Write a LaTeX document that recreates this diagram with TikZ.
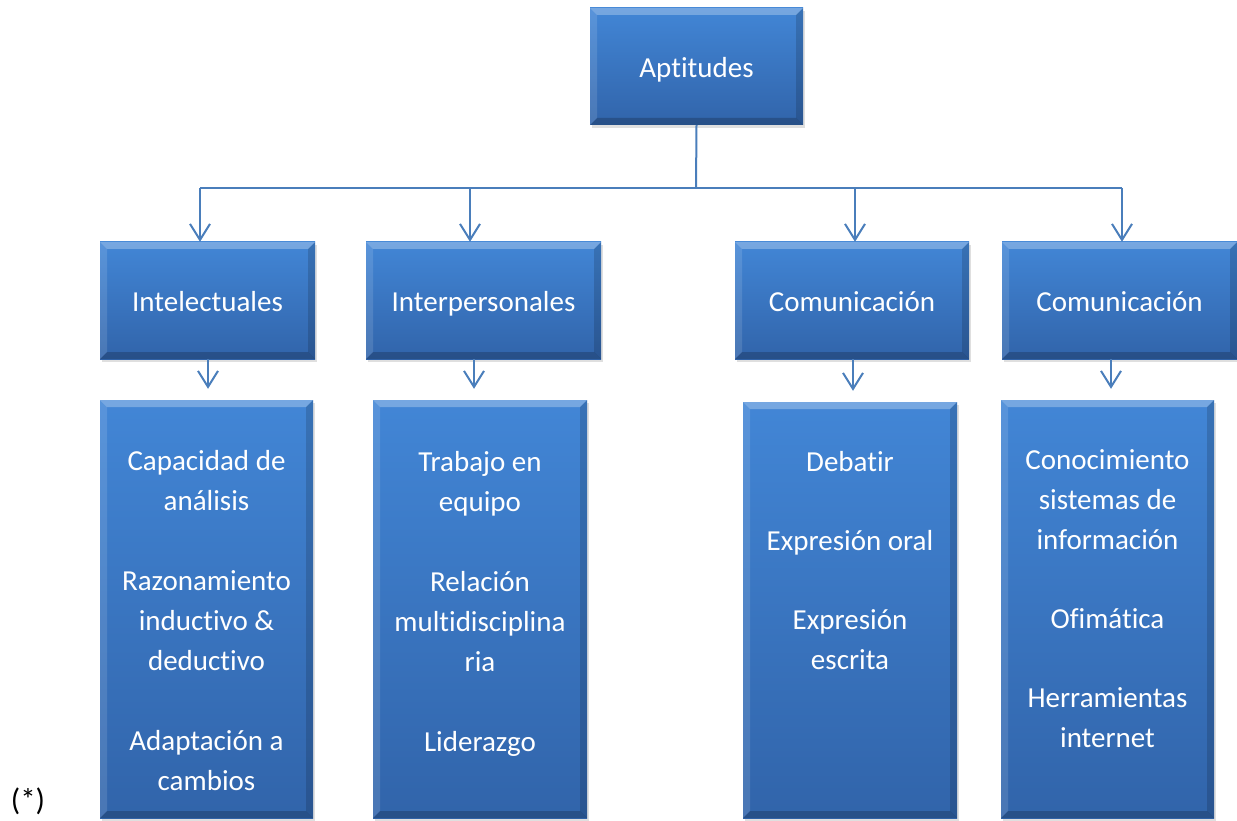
\documentclass[tikz,border=0pt]{standalone}
\usepackage{fontspec}
\setmainfont{Carlito}[Ligatures=NoCommon]
\usetikzlibrary{arrows.meta,shadows,calc}
\definecolor{btop}{RGB}{66,134,214}
\definecolor{bbot}{RGB}{49,100,170}
\definecolor{lnc}{RGB}{74,126,187}
\tikzset{
  bevelpic/.style={path picture={
    \fill[white,opacity=.28] (path picture bounding box.north west) -- (path picture bounding box.north east)
      -- ([xshift=-7pt,yshift=-7pt]path picture bounding box.north east) -- ([xshift=7pt,yshift=-7pt]path picture bounding box.north west) -- cycle;
    \fill[white,opacity=.12] (path picture bounding box.north west) -- ([xshift=7pt,yshift=-7pt]path picture bounding box.north west)
      -- ([xshift=7pt,yshift=7pt]path picture bounding box.south west) -- (path picture bounding box.south west) -- cycle;
    \fill[black,opacity=.2] (path picture bounding box.south west) -- (path picture bounding box.south east)
      -- ([xshift=-7pt,yshift=7pt]path picture bounding box.south east) -- ([xshift=7pt,yshift=7pt]path picture bounding box.south west) -- cycle;
    \fill[black,opacity=.15] (path picture bounding box.north east) -- ([xshift=-7pt,yshift=-7pt]path picture bounding box.north east)
      -- ([xshift=-7pt,yshift=7pt]path picture bounding box.south east) -- (path picture bounding box.south east) -- cycle;
  }},
  bx/.style={top color=btop, bottom color=bbot, draw=none,
    drop shadow={opacity=.25,shadow xshift=2pt,shadow yshift=-3pt},
    bevelpic, text=white, inner sep=0pt, align=center,
    text height=25pt, text depth=3pt,
    font=\fontsize{29}{40}\selectfont},
  txt/.style={text=white, inner sep=0pt, align=center, anchor=north,
    font=\fontsize{29}{40}\selectfont},
  ln/.style={draw=lnc, line width=2pt},
  arr/.style={ln, -{Straight Barb[length=16pt,width=20pt,line width=2pt]}},
}
\begin{document}
\begin{tikzpicture}[x=1pt,y=-1pt]
\useasboundingbox (0,0) rectangle (1237,821);
% level 1
\node[bx, minimum width=213pt, minimum height=117pt] (apt) at (696.5,66.5) {Aptitudes};
% level 2
\node[bx, minimum width=215pt, minimum height=117pt] (int) at (207.5,300.5) {Intelectuales};
\node[bx, minimum width=235pt, minimum height=117pt] (ipe) at (483.5,300.5) {Interpersonales};
\node[bx, minimum width=234pt, minimum height=117pt] (co1) at (852,300.5) {Comunicación};
\node[bx, minimum width=235pt, minimum height=117pt] (co2) at (1119.5,300.5) {Comunicación};
% level 3
\node[bx, minimum width=213pt, minimum height=418pt] (c1) at (206.5,609) {};
\node[bx, minimum width=214pt, minimum height=418pt] (c2) at (480,609) {};
\node[bx, minimum width=214pt, minimum height=416pt] (c3) at (850,610) {};
\node[bx, minimum width=213pt, minimum height=418pt] (c4) at (1107.5,609) {};
\node[txt] (t1) at ($(c1.north)+(0,50)$) {Capacidad de\\análisis\\[40pt]Razonamiento\\inductivo \&\\deductivo\\[40pt]Adaptación a\\cambios};
\node[txt] (t2) at ($(c2.north)+(0,51)$) {Trabajo en\\equipo\\[40pt]Relación\\multidisciplina\\ria\\[40pt]Liderazgo};
\node[txt] (t3) at ($(c3.north)+(0,49)$) {Debatir\\[39pt]Expresión oral\\[39pt]Expresión\\escrita};
\node[txt] (t4) at ($(c4.north)+(0,50)$) {Conocimiento\\sistemas de\\información\\[39pt]Ofimática\\[39pt]Herramientas\\internet};
% connectors
\coordinate (bus) at (696,188);
\coordinate (b1) at (200,188);
\coordinate (b2) at (470,188);
\coordinate (b3) at (855,188);
\coordinate (b4) at (1122,188);
\draw[ln] (apt.south) -- (bus);
\draw[ln] (b1) -- (b4);
\draw[arr] (b1) -- (b1 |- int.north);
\draw[arr] (b2) -- (b2 |- ipe.north);
\draw[arr] (b3) -- (b3 |- co1.north);
\draw[arr] (b4) -- (b4 |- co2.north);
\coordinate (d1) at (208,0);
\coordinate (d2) at (474,0);
\coordinate (d3) at (853,0);
\coordinate (d4) at (1111,0);
\draw[arr, shorten >=11pt] (int.south -| d1) -- (c1.north -| d1);
\draw[arr, shorten >=11pt] (ipe.south -| d2) -- (c2.north -| d2);
\draw[arr, shorten >=11pt] (co1.south -| d3) -- (c3.north -| d3);
\draw[arr, shorten >=11pt] (co2.south -| d4) -- (c4.north -| d4);
% note
\node[inner sep=0pt, font=\fontsize{31}{40}\selectfont] (note) at (28,801) {(*)};
\end{tikzpicture}
\end{document}
